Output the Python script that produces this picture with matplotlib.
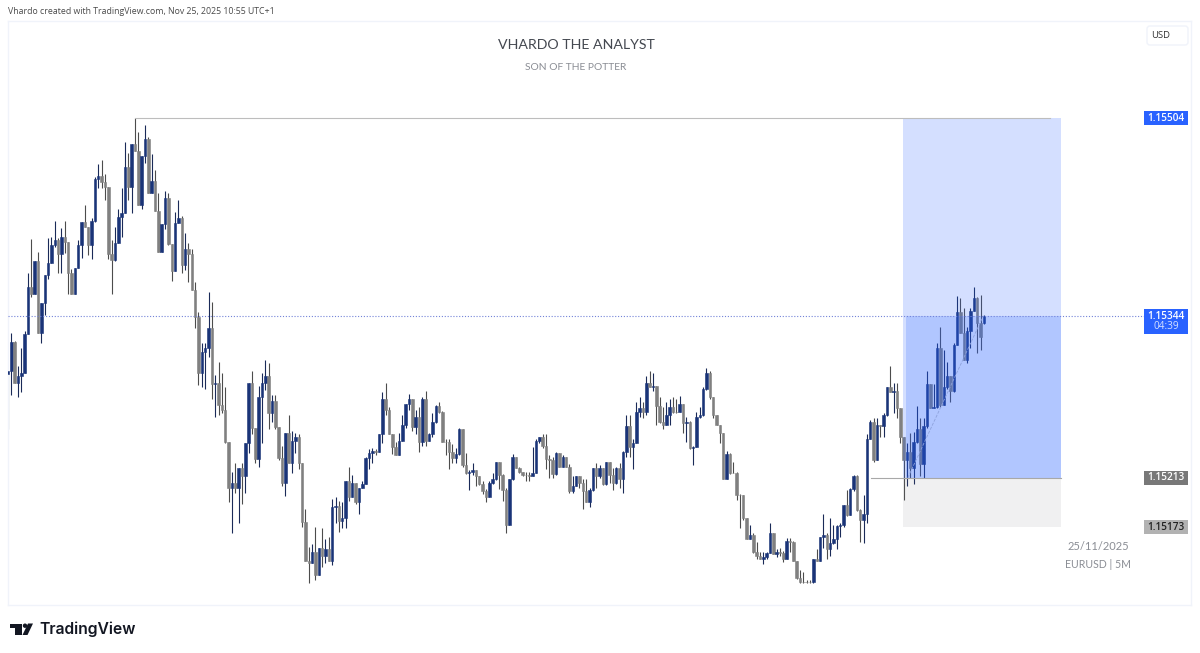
import matplotlib
matplotlib.use('Agg')
import matplotlib.pyplot as plt
from matplotlib.patches import Rectangle, Polygon, Circle, FancyBboxPatch

# EURUSD 5M, valeurs en 1/100000 au-dessus de 1 (15344 = 1.15344)
close_pts = [
    15299, 15323, 15290, 15295, 15298, 15329, 15367, 15362, 15388, 15330, 15354, 15377, 15387, 15401, 15405, 15394,
    15408, 15404, 15379, 15362, 15383, 15401, 15420, 15416, 15401, 15421, 15455, 15457, 15452, 15448, 15394, 15389,
    15403, 15424, 15427, 15464, 15448, 15483, 15477, 15434, 15473, 15487, 15443, 15453, 15429, 15396, 15418, 15439,
    15402, 15380, 15419, 15423, 15385, 15398, 15394, 15365, 15343, 15298, 15315, 15318, 15334, 15289, 15290, 15272,
    15268, 15242, 15205, 15209, 15205, 15221, 15214, 15241, 15290, 15253, 15228, 15278, 15290, 15295, 15265, 15275,
    15254, 15229, 15209, 15249, 15225, 15243, 15246, 15225, 15177, 15146, 15144, 15153, 15134, 15156, 15150, 15155,
    15146, 15189, 15190, 15178, 15180, 15210, 15197, 15209, 15193, 15205, 15208, 15229, 15233, 15235, 15234, 15248,
    15277, 15268, 15248, 15238, 15231, 15243, 15256, 15273, 15277, 15254, 15262, 15242, 15277, 15243, 15248, 15258,
    15271, 15266, 15242, 15242, 15234, 15229, 15232, 15252, 15223, 15217, 15218, 15219, 15214, 15208, 15202, 15197,
    15209, 15212, 15226, 15215, 15203, 15175, 15212, 15230, 15221, 15218, 15215, 15215, 15214, 15217, 15243, 15246,
    15239, 15228, 15227, 15216, 15233, 15222, 15230, 15222, 15202, 15206, 15214, 15209, 15202, 15193, 15203, 15221,
    15214, 15221, 15208, 15226, 15215, 15209, 15221, 15212, 15234, 15255, 15238, 15241, 15266, 15269, 15266, 15290,
    15286, 15287, 15271, 15258, 15256, 15264, 15270, 15266, 15266, 15273, 15257, 15258, 15237, 15238, 15262, 15264,
    15285, 15298, 15278, 15264, 15256, 15249, 15212, 15232, 15217, 15217, 15199, 15199, 15180, 15163, 15167, 15153,
    15150, 15147, 15149, 15152, 15168, 15151, 15153, 15152, 15147, 15162, 15161, 15146, 15132, 15129, 15129, 15129,
    15129, 15147, 15146, 15165, 15167, 15155, 15160, 15163, 15174, 15175, 15191, 15183, 15204, 15214, 15187, 15179,
    15184, 15244, 15258, 15227, 15256, 15255, 15264, 15286, 15282, 15283, 15269, 15246, 15227, 15234, 15221, 15242,
    15252, 15224, 15255, 15289, 15269, 15270, 15318, 15272, 15286, 15295, 15283, 15320, 15347, 15330, 15308, 15332,
    15348, 15358, 15338, 15327, 15344,
]
high_pts = [
    15299, 15330, 15324, 15303, 15318, 15332, 15379, 15406, 15388, 15396, 15354, 15377, 15407, 15408, 15421, 15407,
    15415, 15421, 15404, 15382, 15383, 15405, 15420, 15434, 15416, 15423, 15456, 15467, 15470, 15459, 15448, 15405,
    15416, 15430, 15447, 15485, 15476, 15483, 15504, 15493, 15473, 15498, 15489, 15475, 15462, 15443, 15418, 15445,
    15443, 15402, 15428, 15438, 15425, 15411, 15403, 15398, 15371, 15347, 15322, 15322, 15363, 15355, 15296, 15307,
    15298, 15286, 15242, 15218, 15225, 15221, 15225, 15241, 15290, 15299, 15253, 15287, 15298, 15308, 15306, 15280,
    15280, 15254, 15239, 15249, 15264, 15251, 15249, 15248, 15225, 15188, 15157, 15159, 15173, 15156, 15172, 15163,
    15165, 15196, 15197, 15194, 15193, 15210, 15222, 15215, 15209, 15205, 15210, 15230, 15236, 15237, 15236, 15248,
    15282, 15290, 15270, 15248, 15242, 15249, 15264, 15273, 15281, 15277, 15268, 15270, 15278, 15283, 15249, 15265,
    15272, 15274, 15267, 15244, 15244, 15240, 15237, 15253, 15252, 15233, 15219, 15225, 15219, 15214, 15210, 15204,
    15210, 15217, 15226, 15226, 15216, 15205, 15212, 15232, 15230, 15222, 15218, 15218, 15218, 15238, 15244, 15246,
    15248, 15248, 15231, 15230, 15234, 15233, 15231, 15230, 15224, 15214, 15214, 15214, 15212, 15212, 15205, 15221,
    15225, 15223, 15221, 15226, 15226, 15221, 15222, 15225, 15235, 15264, 15264, 15244, 15274, 15278, 15274, 15295,
    15299, 15298, 15287, 15278, 15270, 15274, 15277, 15278, 15277, 15279, 15273, 15262, 15259, 15239, 15266, 15270,
    15286, 15302, 15299, 15278, 15264, 15256, 15249, 15235, 15233, 15226, 15218, 15200, 15199, 15180, 15175, 15168,
    15161, 15153, 15153, 15153, 15176, 15168, 15155, 15156, 15154, 15164, 15164, 15162, 15146, 15138, 15137, 15130,
    15130, 15147, 15155, 15165, 15184, 15168, 15180, 15175, 15175, 15176, 15191, 15203, 15205, 15215, 15215, 15188,
    15199, 15248, 15260, 15261, 15261, 15256, 15265, 15286, 15303, 15290, 15290, 15269, 15246, 15241, 15249, 15250,
    15271, 15261, 15261, 15299, 15289, 15289, 15322, 15335, 15316, 15307, 15295, 15322, 15360, 15358, 15350, 15335,
    15350, 15367, 15359, 15361, 15345,
]
low_pts = [
    15252, 15280, 15290, 15278, 15282, 15298, 15329, 15359, 15362, 15330, 15322, 15345, 15374, 15387, 15400, 15379,
    15379, 15395, 15362, 15362, 15362, 15383, 15391, 15416, 15393, 15390, 15420, 15447, 15447, 15438, 15390, 15362,
    15388, 15403, 15408, 15427, 15438, 15427, 15477, 15434, 15430, 15468, 15443, 15443, 15429, 15396, 15396, 15414,
    15401, 15372, 15380, 15419, 15379, 15381, 15371, 15365, 15334, 15288, 15286, 15285, 15311, 15277, 15262, 15264,
    15265, 15241, 15193, 15168, 15201, 15176, 15192, 15201, 15233, 15248, 15225, 15222, 15241, 15284, 15252, 15258,
    15252, 15227, 15206, 15198, 15225, 15217, 15233, 15220, 15173, 15146, 15128, 15144, 15130, 15134, 15141, 15144,
    15146, 15142, 15176, 15169, 15172, 15172, 15194, 15197, 15192, 15184, 15205, 15208, 15220, 15225, 15231, 15234,
    15241, 15264, 15248, 15232, 15231, 15231, 15243, 15253, 15268, 15251, 15248, 15234, 15239, 15239, 15243, 15246,
    15257, 15265, 15242, 15231, 15220, 15225, 15225, 15231, 15222, 15216, 15203, 15215, 15206, 15207, 15200, 15193,
    15197, 15208, 15211, 15204, 15194, 15168, 15175, 15211, 15221, 15217, 15214, 15210, 15210, 15214, 15217, 15241,
    15237, 15220, 15213, 15213, 15215, 15222, 15222, 15222, 15201, 15201, 15206, 15205, 15188, 15193, 15189, 15202,
    15205, 15213, 15207, 15207, 15209, 15203, 15208, 15205, 15201, 15230, 15230, 15220, 15241, 15262, 15261, 15264,
    15286, 15283, 15256, 15257, 15252, 15256, 15256, 15265, 15265, 15266, 15249, 15242, 15236, 15223, 15238, 15261,
    15263, 15284, 15277, 15261, 15256, 15241, 15212, 15212, 15216, 15217, 15195, 15172, 15179, 15163, 15163, 15152,
    15147, 15147, 15143, 15147, 15152, 15151, 15149, 15150, 15145, 15147, 15153, 15146, 15131, 15128, 15128, 15128,
    15128, 15128, 15146, 15146, 15156, 15147, 15150, 15159, 15155, 15165, 15173, 15182, 15183, 15202, 15186, 15161,
    15160, 15176, 15244, 15226, 15227, 15246, 15246, 15263, 15282, 15265, 15261, 15241, 15195, 15206, 15213, 15208,
    15241, 15214, 15213, 15253, 15269, 15269, 15269, 15270, 15272, 15285, 15274, 15282, 15320, 15330, 15308, 15306,
    15318, 15348, 15314, 15316, 15337,
]
first_open = 15297
last_open = 15338

# Niveaux dessinés sur le graphique
target_price = 1.15504
entry_price = 1.15213
stop_price = 1.15173
last_price = 1.15344
countdown = '04:39'

W, H = 1200, 653
PANE_L, PANE_R, PANE_T, PANE_B = 7.5, 1191, 21, 605
BAR_PX = 3.342

BLUE = '#1a3478'
GREY = '#808080'
WICK_BLUE = '#1a2a58'
WICK_GREY = '#4c4c4c'
ZONE = '#2962ff'

close = [1 + v / 1e5 for v in close_pts]
high = [1 + v / 1e5 for v in high_pts]
low = [1 + v / 1e5 for v in low_pts]
opens = [1 + first_open / 1e5] + close[:-1]
opens[-1] = 1 + last_open / 1e5

fig = plt.figure(figsize=(W / 100, H / 100), dpi=100, facecolor='white')
ax = fig.add_axes([PANE_L / W, 1 - PANE_B / H, (PANE_R - PANE_L) / W, (PANE_B - PANE_T) / H])

# Echelle: 1 px = 0.00000809
ax.set_xlim(0, (PANE_R - PANE_L) / BAR_PX)
ax.set_ylim(1.15110, 1.155825)
ax.set_xticks([])
ax.set_yticks([])
for s in ax.spines.values():
    s.set_color('#f0f3fa')
    s.set_linewidth(1)

# Bougies
for i in range(len(close)):
    up = close[i] > opens[i]
    top = max(high[i], opens[i], close[i])
    bottom = min(low[i], opens[i], close[i])
    ax.vlines(i + 0.15, bottom, top, color=WICK_BLUE if up else WICK_GREY, linewidth=0.8, zorder=2)
    col = BLUE if up else GREY
    ax.bar(i + 0.15, abs(close[i] - opens[i]), bottom=min(opens[i], close[i]), width=0.75,
           color=col, edgecolor=col, linewidth=0.4, zorder=3)

# Position longue
left_zone, right_zone = 267.95, 315.2
ax.add_patch(Rectangle((left_zone, entry_price), right_zone - left_zone, target_price - entry_price,
                       facecolor=ZONE, alpha=0.2, edgecolor='none', zorder=4))
ax.add_patch(Rectangle((left_zone + 0.9, entry_price), right_zone - left_zone - 0.9, last_price - entry_price,
                       facecolor=ZONE, alpha=0.2, edgecolor='none', zorder=4))
ax.add_patch(Rectangle((left_zone, stop_price), right_zone - left_zone, entry_price - stop_price,
                       facecolor='#787b86', alpha=0.11, edgecolor='none', zorder=4))
ax.plot([38.15, 311.9], [target_price, target_price], color='#bdbdbd', linewidth=0.8, zorder=5)
ax.plot([258.4, right_zone], [entry_price, entry_price], color='#a8a8a8', linewidth=0.8, zorder=5)
ax.plot([269.4, len(close) - 1], [entry_price, last_price], color='#8ea2dc', linewidth=0.6, linestyle='--', zorder=5)

# Prix courant
ax.plot([0, (1145 - PANE_L) / BAR_PX], [last_price, last_price], color='#7383d8', linewidth=0.8,
        linestyle=(0, (1, 1.6)), zorder=5)

# Habillage en pixels
ov = fig.add_axes([0, 0, 1, 1], facecolor='none')
ov.set_xlim(0, W)
ov.set_ylim(H, 0)
ov.axis('off')


def py(price):
    return ax.transData.transform((0, price))[1] * -1 + H


def price_tag(price, label, face, txt, extra=None):
    y = py(price)
    h0 = 7
    h1 = 18 if extra else 7
    ov.add_patch(Rectangle((1144, y - h0), 44, h0 + h1, facecolor=face, edgecolor='none'))
    ov.text(1166, y + 0.3, label, color=txt, fontsize=7.2, ha='center', va='center',
            family='Open Sans', fontweight='semibold')
    if extra:
        ov.text(1166, y + 11, extra, color='#d5e0ff', fontsize=7.2, ha='center', va='center', family='Open Sans')


price_tag(target_price, '1.15504', '#2962ff', 'white')
price_tag(last_price, '1.15344', '#2962ff', 'white', extra=countdown)
price_tag(entry_price, '1.15213', '#787878', 'white')
price_tag(stop_price, '1.15173', '#b2b2b2', '#222222')

ov.text(8, 11, 'Vhardo created with TradingView.com, Nov 25, 2025 10:55 UTC+1', fontsize=6.3,
        color='#4a4a4a', va='center', family='Open Sans')
ov.text(576, 45, 'VHARDO THE ANALYST', fontsize=10.2, color='#444850', ha='center', va='center', family='Lato')
ov.text(576, 67, 'SON OF THE POTTER', fontsize=7.4, color='#8a8d94', ha='center', va='center', family='Lato')
ov.text(1098, 546, '25/11/2025', fontsize=8, color='#8a8d94', ha='center', va='center', family='Lato')
ov.text(1098, 565, 'EURUSD | 5M', fontsize=7.6, color='#8a8d94', ha='center', va='center', family='Lato')

ov.add_patch(FancyBboxPatch((1147, 26), 41, 19, boxstyle='round,pad=0,rounding_size=3',
                            facecolor='white', edgecolor='#f0f3fa', linewidth=1))
ov.text(1161, 35.5, 'USD', fontsize=6.8, color='#333333', ha='center', va='center', family='Open Sans')

# Logo TradingView
logo = '#131722'
ov.add_patch(Polygon([(9.5, 623.5), (21.5, 623.5), (21.5, 635), (15, 635), (15, 628), (9.5, 628)],
                     facecolor=logo, edgecolor='none'))
ov.add_patch(Circle((25, 625.7), 2.2, facecolor=logo, edgecolor='none'))
ov.add_patch(Polygon([(28, 623.5), (33, 623.5), (27.5, 635), (22.5, 635)], facecolor=logo, edgecolor='none'))
ov.text(39, 629.5, 'TradingView', fontsize=11.3, color=logo, va='center', family='Inter', fontweight='semibold')

fig.savefig('out.png', dpi=100)
